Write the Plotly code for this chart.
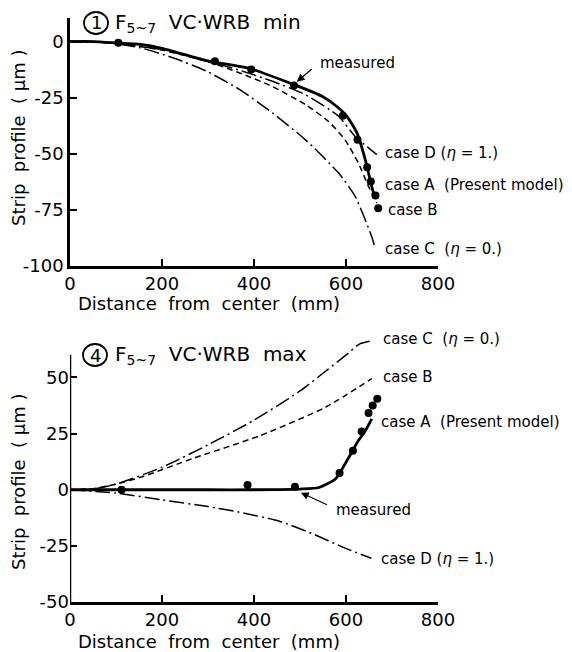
import plotly.graph_objects as go

# ---------------- data ----------------
# Panel 1 : F5~7 VC-WRB min
top_A_x = [0, 50, 100, 153, 200, 297, 390, 487, 548, 584, 602, 624, 642, 656, 660]
top_A_y = [0, 0, -0.6, -1.3, -3.0, -8.5, -12.0, -19.2, -24.4, -29.6, -33.3, -40.8, -52.7, -64.6, -67.5]
top_B_x = [0, 50, 100, 200, 300, 369, 440, 512, 562, 598, 627, 649, 667]
top_B_y = [0, 0, -0.8, -3.8, -9.0, -14.0, -20.0, -28.1, -35.6, -43.8, -54.2, -64.6, -72.0]
top_C_x = [0, 50, 100, 153, 225, 297, 369, 440, 512, 584, 620, 656, 663]
top_C_y = [0, 0, -1.0, -2.8, -7.3, -13.2, -21.4, -31.8, -43.8, -58.6, -69.0, -87.0, -92.0]
top_D_x = [0, 50, 100, 200, 300, 369, 440, 512, 584, 620, 667]
top_D_y = [0, 0, -0.8, -3.6, -8.8, -12.8, -17.7, -23.7, -33.3, -42.3, -50.4]
top_M_x = [105, 315, 394, 487, 593, 625, 646, 654, 664, 670]
top_M_y = [-0.5, -8.8, -12.5, -19.6, -33.0, -43.8, -56.0, -62.4, -68.6, -74.3]

# Panel 4 : F5~7 VC-WRB max
bot_A_x = [0, 100, 200, 300, 400, 500, 541, 577, 606, 627, 642, 656]
bot_A_y = [0, 0, 0, 0, 0, 0.3, 1.0, 4.8, 14.4, 21.9, 26.3, 31.6]
bot_B_x = [0, 50, 100, 160, 268, 412, 555, 656]
bot_B_y = [0, 0.5, 2.5, 6.0, 14.0, 24.0, 36.7, 49.5]
bot_C_x = [0, 50, 100, 200, 300, 400, 500, 560, 600, 630, 660]
bot_C_y = [0, 0.3, 2.5, 10.0, 20.0, 31.0, 44.0, 53.5, 60.0, 65.0, 66.5]
bot_D_x = [0, 100, 200, 300, 368, 455, 526, 598, 655]
bot_D_y = [0, -1.5, -4.5, -7.5, -10.0, -14.0, -19.5, -26.0, -30.5]
bot_M_x = [112, 386, 489, 586, 615, 634, 649, 658, 668]
bot_M_y = [0, 2.1, 1.3, 7.5, 17.4, 25.9, 34.2, 37.5, 40.5]

x_ticks = [0, 200, 400, 600, 800]
top_y_ticks = [0, -25, -50, -75, -100]
top_y_text = ["0", "-25", "-50", "-75", "-100"]
bot_y_ticks = [50, 25, 0, -25, -50]
bot_y_text = ["50", "25", "0", "-25", "-50"]
bot_axis_top = 60

FONT = "DejaVu Sans"
BLACK = "black"
DASHDOT = "15px,4px,2px,4px"

fig = go.Figure()

def add_panel(xa, ya, A, B, C, D, M):
    common = dict(xaxis=xa, yaxis=ya, mode="lines", showlegend=False, hoverinfo="skip")
    fig.add_trace(go.Scatter(x=C[0], y=C[1], line=dict(color=BLACK, width=1.5, dash=DASHDOT, shape="spline", smoothing=0.6), **common))
    fig.add_trace(go.Scatter(x=D[0], y=D[1], line=dict(color=BLACK, width=1.5, dash=DASHDOT, shape="spline", smoothing=0.6), **common))
    fig.add_trace(go.Scatter(x=B[0], y=B[1], line=dict(color=BLACK, width=1.5, dash="6px,4px", shape="spline", smoothing=0.6), **common))
    fig.add_trace(go.Scatter(x=A[0], y=A[1], line=dict(color=BLACK, width=2.8, shape="spline", smoothing=0.6), **common))
    fig.add_trace(go.Scatter(x=M[0], y=M[1], xaxis=xa, yaxis=ya, mode="markers", showlegend=False,
                             marker=dict(color=BLACK, size=8), hoverinfo="skip"))

add_panel("x", "y", (top_A_x, top_A_y), (top_B_x, top_B_y), (top_C_x, top_C_y), (top_D_x, top_D_y), (top_M_x, top_M_y))
add_panel("x2", "y2", (bot_A_x, bot_A_y), (bot_B_x, bot_B_y), (bot_C_x, bot_C_y), (bot_D_x, bot_D_y), (bot_M_x, bot_M_y))

axis_common = dict(showgrid=False, zeroline=False, showline=True, linecolor=BLACK, linewidth=2.5,
                   ticks="inside", ticklen=7, tickwidth=1.5, tickcolor=BLACK,
                   tickfont=dict(family=FONT, size=18, color=BLACK))

W, H = 572, 652
ML, MR, MT, MB = 70, 134, 18, 50
PW, PH = W - ML - MR, H - MT - MB

def px(xp):
    return (xp - ML) / PW

def py(yp):
    return (H - MB - yp) / PH

# bottom panel: y range extended above the drawn axis line so that case C is not clipped
bot_range = [-50, 68]
bot_dom_top = py(355) + (bot_range[1] - bot_axis_top) * 2.24 / PH

fig.update_layout(
    width=W, height=H, paper_bgcolor="white", plot_bgcolor="white",
    margin=dict(l=ML, r=MR, t=MT, b=MB),
    xaxis=dict(range=[0, 800], tickvals=x_ticks, anchor="y", domain=[0, 1], **axis_common),
    yaxis=dict(range=[-100, 10.5], tickvals=top_y_ticks, ticktext=top_y_text, anchor="x",
               domain=[py(266), 1], **axis_common),
    xaxis2=dict(range=[0, 800], tickvals=x_ticks, anchor="y2", domain=[0, 1], **axis_common),
    yaxis2=dict(range=bot_range, tickvals=bot_y_ticks, ticktext=bot_y_text, anchor="x2",
                domain=[0, bot_dom_top], **axis_common),
)
fig.layout.yaxis2.showline = False
fig.add_shape(type="line", xref="x2", yref="y2", x0=0, x1=0, y0=bot_range[0], y1=bot_axis_top,
              line=dict(color=BLACK, width=2.5))

ann = []
lab_font = dict(family=FONT, size=15, color=BLACK)
title_font = dict(family=FONT, size=20, color=BLACK)
axt_font = dict(family=FONT, size=18, color=BLACK)

def text(x, y, s, xref, yref, font=lab_font, xanchor="left", yanchor="middle", angle=0):
    ann.append(dict(x=x, y=y, text=s, xref=xref, yref=yref, showarrow=False, font=font,
                    xanchor=xanchor, yanchor=yanchor, textangle=angle))

def arrow(x, y, ax, ay, xref, yref):
    ann.append(dict(x=x, y=y, ax=ax, ay=ay, xref=xref, yref=yref, axref=xref, ayref=yref,
                    text=" ", showarrow=True, arrowhead=2, arrowsize=1.2, arrowwidth=1.3, arrowcolor=BLACK,
                    font=dict(size=2)))

# panel titles
text(px(113), py(23), "F<sub>5~7</sub>  VC·WRB  min", "paper", "paper", title_font)
text(px(96), py(23), "1", "paper", "paper", dict(family=FONT, size=18, color=BLACK), xanchor="center")
text(px(113), py(355), "F<sub>5~7</sub>  VC·WRB  max", "paper", "paper", title_font)
text(px(95), py(355), "4", "paper", "paper", dict(family=FONT, size=18, color=BLACK), xanchor="center")

# axis titles
text(px(209), py(303), "Distance  from  center  (mm)", "paper", "paper", axt_font, xanchor="center")
text(px(209), py(641), "Distance  from  center  (mm)", "paper", "paper", axt_font, xanchor="center")
text(px(18), py(138), "Strip  profile  ( μm )", "paper", "paper", axt_font, xanchor="center", angle=-90)
text(px(18), py(482), "Strip  profile  ( μm )", "paper", "paper", axt_font, xanchor="center", angle=-90)

# top panel labels
text(681, -49.6, "case D (<i>η</i> = 1.)", "x", "y")
text(681, -63.8, "case A  (Present model)", "x", "y")
text(687, -75.0, "case B", "x", "y")
text(681, -92.4, "case C  (<i>η</i> = 0.)", "x", "y")
text(539, -9.4, "measured", "x", "y")
arrow(493, -17.9, 530, -11.5, "x", "y")

# bottom panel labels
text(675, 67.0, "case C  (<i>η</i> = 0.)", "x2", "y2")
text(675, 50.0, "case B", "x2", "y2")
text(672, 30.0, "case A  (Present model)", "x2", "y2")
text(573, -8.9, "measured", "x2", "y2")
arrow(502, -1.3, 563, -7.1, "x2", "y2")
text(672, -30.8, "case D (<i>η</i> = 1.)", "x2", "y2")

fig.update_layout(annotations=ann)

# circles around panel numbers
fig.add_shape(type="circle", xref="paper", yref="paper", x0=px(84), x1=px(108), y0=py(34), y1=py(12),
              line=dict(color=BLACK, width=1.8))
fig.add_shape(type="circle", xref="paper", yref="paper", x0=px(83), x1=px(107), y0=py(366), y1=py(344),
              line=dict(color=BLACK, width=1.8))

fig.write_html("out.html")
